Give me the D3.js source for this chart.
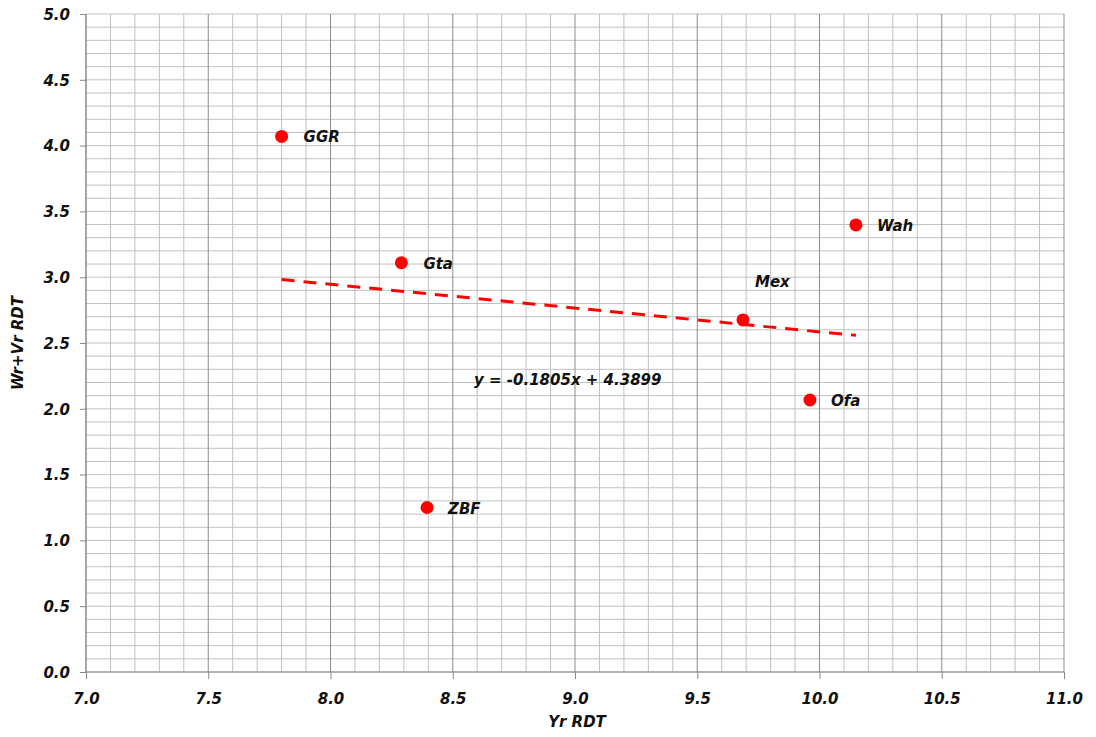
<!DOCTYPE html>
<html>
<head>
<meta charset="utf-8">
<script src="https://cdn.jsdelivr.net/npm/d3@7"></script>
<style>
  html, body { margin: 0; padding: 0; background: #fff; }
  svg text { font-family: "DejaVu Sans", Verdana, sans-serif; font-weight: bold; font-style: italic; fill: #111; }
</style>
</head>
<body>
<svg id="chart" width="1096" height="737"></svg>
<script>
// Sites and their RDT values
const sites = ["GGR", "Gta", "ZBF", "Mex", "Ofa", "Wah"];
const yrRDT = [7.80, 8.29, 8.395, 9.687, 9.961, 10.149];
const wrVrRDT = [4.07, 3.11, 1.25, 2.675, 2.067, 3.397];

// Linear fit shown on the chart
const slope = -0.1805;
const intercept = 4.3899;
const fitLabel = "y = -0.1805x + 4.3899";

const xTicks = [7.0, 7.5, 8.0, 8.5, 9.0, 9.5, 10.0, 10.5, 11.0];
const yTicks = [0.0, 0.5, 1.0, 1.5, 2.0, 2.5, 3.0, 3.5, 4.0, 4.5, 5.0];

// Label offsets (dx, dy) per site
const labelOffsets = {
  GGR: [22, 6], Gta: [22, 6], ZBF: [21, 6], Mex: [12, -33], Ofa: [21, 6], Wah: [21, 6]
};

const svg = d3.select("#chart");
const x = d3.scaleLinear().domain([7, 11]).range([86, 1064]);
const y = d3.scaleLinear().domain([0, 5]).range([672, 14]);

// Minor grid every 0.1
const g = svg.append("g");
const minorX = d3.range(70, 111).map(v => v / 10);
const minorY = d3.range(0, 51).map(v => v / 10);

g.selectAll("line.hy").data(minorY).enter().append("line")
  .attr("x1", x(7)).attr("x2", x(11))
  .attr("y1", d => y(d)).attr("y2", d => y(d))
  .attr("stroke", "#c0c0c0").attr("stroke-width", 1);

g.selectAll("line.vx").data(minorX).enter().append("line")
  .attr("y1", y(0)).attr("y2", y(5))
  .attr("x1", d => x(d)).attr("x2", d => x(d))
  .attr("stroke", d => (Math.round(d * 10) % 5 === 0) ? "#8c8c8c" : "#c0c0c0")
  .attr("stroke-width", 1);

// Axis lines
svg.append("line").attr("x1", x(7)).attr("x2", x(7)).attr("y1", y(0)).attr("y2", y(5))
  .attr("stroke", "#888").attr("stroke-width", 1);
svg.append("line").attr("x1", x(7)).attr("x2", x(11)).attr("y1", y(0)).attr("y2", y(0))
  .attr("stroke", "#888").attr("stroke-width", 1);

// Axes
const xAxis = d3.axisBottom(x).tickValues(xTicks).tickFormat(d3.format(".1f")).tickSize(7).tickPadding(10);
const yAxis = d3.axisLeft(y).tickValues(yTicks).tickFormat(d3.format(".1f")).tickSize(6).tickPadding(10);

const gx = svg.append("g").attr("transform", `translate(0,${y(0)})`).call(xAxis);
const gy = svg.append("g").attr("transform", `translate(${x(7)},0)`).call(yAxis);
[gx, gy].forEach(a => {
  a.select(".domain").remove();
  a.selectAll(".tick line").attr("stroke", "#888");
  a.selectAll(".tick text").style("font-size", "15px").attr("fill", "#111");
});
gx.selectAll(".tick text").attr("dy", "1em");
gy.selectAll(".tick text").attr("dy", "0.35em");

// Trend line over the data range
const xMin = d3.min(yrRDT), xMax = d3.max(yrRDT);
svg.append("line")
  .attr("x1", x(xMin)).attr("y1", y(slope * xMin + intercept))
  .attr("x2", x(xMax)).attr("y2", y(slope * xMax + intercept))
  .attr("stroke", "#ff0000").attr("stroke-width", 3)
  .attr("stroke-dasharray", "13,9");

// Points
const data = sites.map((s, i) => ({ name: s, x: yrRDT[i], y: wrVrRDT[i] }));
svg.selectAll("circle.pt").data(data).enter().append("circle")
  .attr("cx", d => x(d.x)).attr("cy", d => y(d.y)).attr("r", 6.5)
  .attr("fill", "#ff0000");

svg.selectAll("text.lbl").data(data).enter().append("text")
  .attr("x", d => x(d.x) + labelOffsets[d.name][0])
  .attr("y", d => y(d.y) + labelOffsets[d.name][1])
  .style("font-size", "15px")
  .text(d => d.name);

// Equation label
svg.append("text").attr("x", 474).attr("y", 385).style("font-size", "15px").text(fitLabel);

// Axis titles
svg.append("text").attr("x", 577).attr("y", 727).attr("text-anchor", "middle")
  .style("font-size", "15px").text("Yr RDT");
svg.append("text").attr("transform", "translate(23,343) rotate(-90)").attr("text-anchor", "middle")
  .style("font-size", "15px").text("Wr+Vr RDT");
</script>
</body>
</html>
